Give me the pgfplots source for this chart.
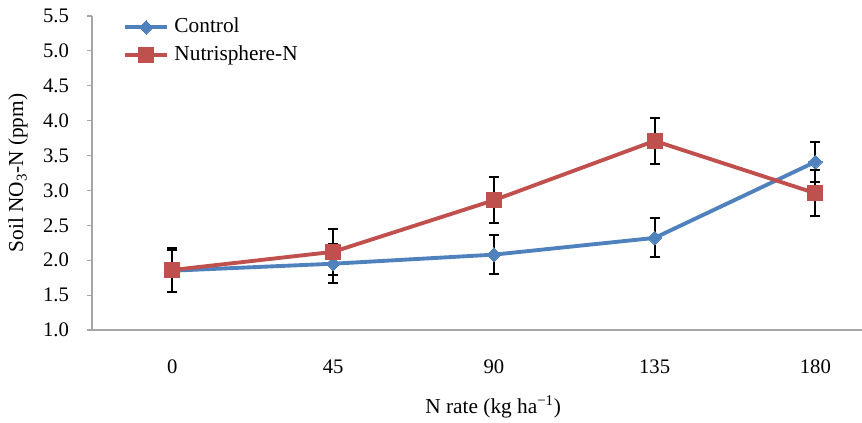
\documentclass[border=0pt]{standalone}
\usepackage{fontspec}
\setmainfont{Liberation Serif}
\usepackage{pgfplots}
\pgfplotsset{compat=1.18}
\definecolor{cblue}{HTML}{4F81BD}
\definecolor{cred}{HTML}{C0504D}
\definecolor{axgray}{HTML}{A6A6A6}
\pgfplotstableread{
x y e
0 1.85 0.30
1 1.95 0.28
2 2.08 0.28
3 2.32 0.28
4 3.41 0.29
}\control
\pgfplotstableread{
x y e
0 1.86 0.31
1 2.12 0.33
2 2.86 0.33
3 3.71 0.33
4 2.96 0.33
}\nutri
\begin{document}
\begin{tikzpicture}
\begin{axis}[
  scale only axis,
  width=577.5pt, height=235.5pt,
  xmin=-0.5, xmax=4.29,
  ymin=1.0, ymax=5.5,
  xtick={0,1,2,3,4},
  xticklabels={0,45,90,135,180},
  ytick={1.0,1.5,2.0,2.5,3.0,3.5,4.0,4.5,5.0,5.5},
  yticklabel style={/pgf/number format/fixed, /pgf/number format/fixed zerofill, /pgf/number format/precision=1},
  /pgf/number format/assume math mode=true,
  axis x line*=bottom, axis y line*=left,
  axis line style={axgray, line width=0.9pt},
  x axis line style={-}, y axis line style={-},
  xtick style={draw=none},
  ytick style={axgray, line width=0.9pt},
  tick align=outside, major tick length=3.75pt,
  ytick pos=left,
  ticklabel style={font=\fontsize{15.5}{18}\selectfont},
  xticklabel style={yshift=-15pt},
  yticklabel style={xshift=-10pt},
  xlabel={N rate (kg ha\textsuperscript{−1})},
  ylabel={Soil NO\textsubscript{3}-N (ppm)},
  label style={font=\fontsize{16}{19}\selectfont},
  xlabel style={at={([yshift=-57.75pt]axis description cs:0.521,0)}, anchor=center},
  ylabel style={at={([xshift=-55.5pt]axis description cs:0,0.5)}, anchor=center},
  legend style={at={([xshift=23.25pt,yshift=-1.25pt]axis description cs:0,1)}, anchor=north west,
    draw=none, fill=none, inner sep=0pt, row sep=7pt,
    font=\fontsize{16}{19}\selectfont,
    nodes={inner xsep=4pt, inner ysep=0pt, text height=11pt, text depth=3pt},
    cells={anchor=west}},
  legend image code/.code={
    \draw[#1, mark repeat=2, mark phase=2] plot coordinates {(0pt,0pt) (15.75pt,0pt) (31.5pt,0pt)};
  },
  clip=false,
  ebars/.style={draw=none, mark=none, forget plot,
    error bars/.cd, y dir=both, y explicit,
    error bar style={draw=black, line width=1.5pt, solid},
    error mark options={rotate=90, draw=black, mark size=3.75pt, line width=1.5pt}},
]
\addplot[ebars] table[x=x, y=y, y error=e] {\control};
\addplot[ebars] table[x=x, y=y, y error=e] {\nutri};
\addplot[cblue, line width=2.9pt, mark=square*, mark size=3.6pt,
  mark options={rotate=45, fill=cblue, draw=cblue, line width=0pt, solid}]
  table[x=x, y=y] {\control};
\addlegendentry{Control}
\addplot[cred, line width=2.9pt, mark=square*, mark size=5.6pt,
  mark options={fill=cred, draw=cred, line width=0pt, solid}]
  table[x=x, y=y] {\nutri};
\addlegendentry{Nutrisphere-N}
\end{axis}
\pgfresetboundingbox
\useasboundingbox (-69pt,-69pt) rectangle (577.5pt,247.5pt);
\end{tikzpicture}
\end{document}
